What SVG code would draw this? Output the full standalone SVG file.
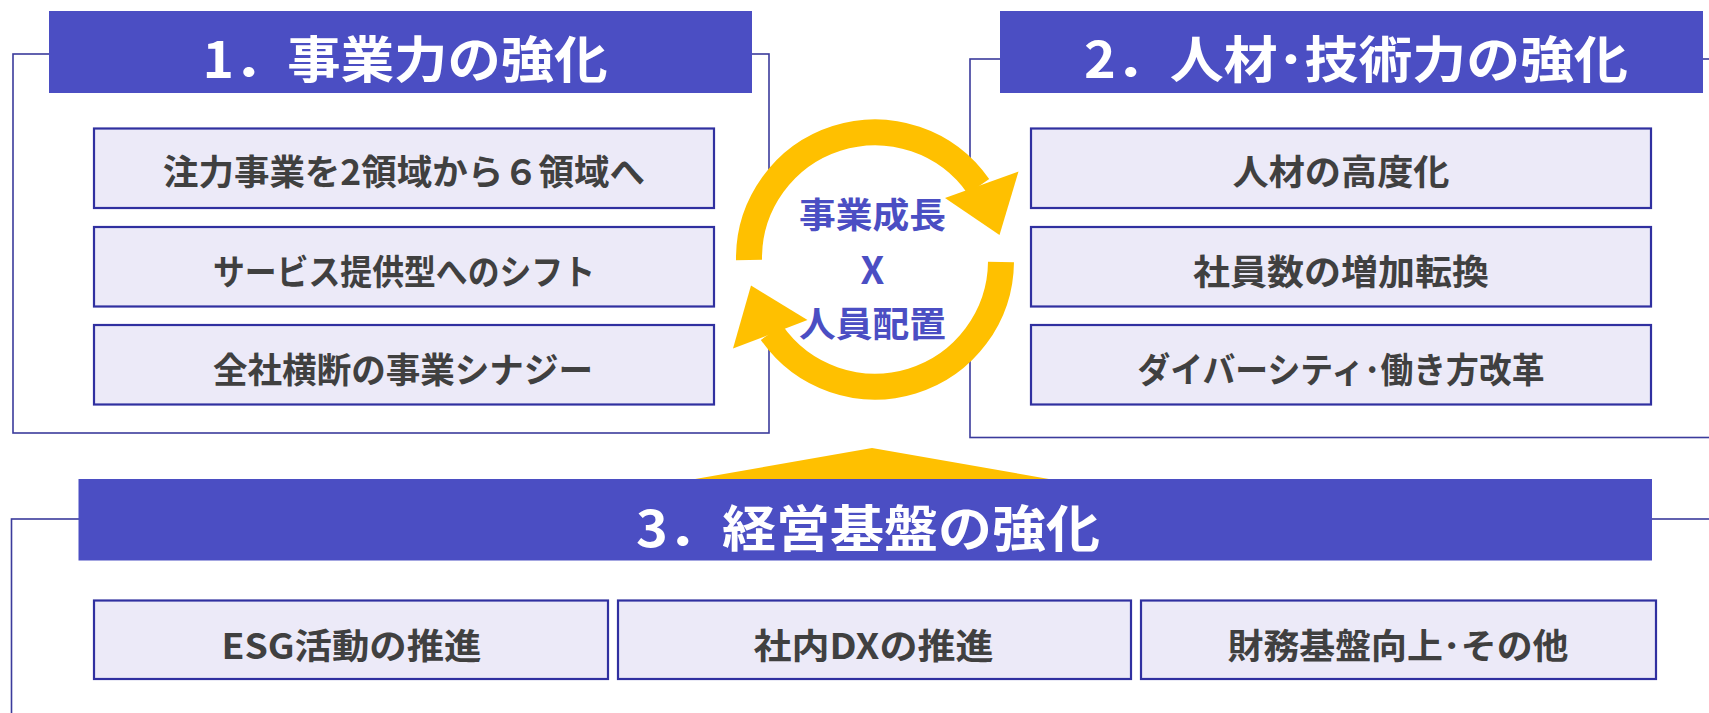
<svg xmlns="http://www.w3.org/2000/svg" width="1709" height="713" viewBox="0 0 1709 713">
<style>
.frame{fill:none;stroke:#3B3B9C;stroke-width:1.6}
.hdr{fill:#4B4EC3}
.hdrt{fill:#FFFFFF;font-family:"Noto Sans CJK JP","Noto Sans",sans-serif;font-weight:700;font-size:50px;text-anchor:middle;dominant-baseline:central}
.item{fill:#ECEAF8;stroke:#3030A0;stroke-width:2.2}
.itemt{fill:#404040;font-family:"Noto Sans CJK JP","Noto Sans",sans-serif;font-weight:700;font-size:35px;text-anchor:middle;dominant-baseline:central}
.ctr{fill:#4B4EC3;font-family:"Noto Sans CJK JP","Noto Sans",sans-serif;font-weight:700;font-size:35px;text-anchor:middle;dominant-baseline:central}
.ring{fill:none;stroke:#FFC000;stroke-width:26}
.yel{fill:#FFC000}
</style>
<rect width="1709" height="713" fill="#FFFFFF"/>
<g id="frames">
<rect class="frame" x="13" y="54" width="756" height="379"/>
<rect class="frame" x="970" y="59" width="760" height="378.5"/>
<rect class="frame" x="11.5" y="519" width="1720" height="300"/>
</g>
<g id="connectors">
<polygon class="yel" points="678,482 872,448 1066,482"/>
<circle cx="875" cy="259" r="139" fill="#FFFFFF"/>
<path class="ring" d="M749,260 A126,126 0 0 1 978.5,186.5"/>
<polygon class="yel" points="945,198 1018.5,171.5 999.5,235"/>
<path class="ring" d="M1001,262 A126,126 0 0 1 771.5,332.5"/>
<polygon class="yel" points="807.5,320 733,348.5 751,285.5"/>
</g>
<g id="node-1">
<rect class="hdr" x="49" y="11" width="703" height="82"/>
<text class="hdrt" x="405" y="55.5" textLength="405" lengthAdjust="spacingAndGlyphs">1．事業力の強化</text>
<rect class="item" x="94" y="128.5" width="620" height="79.5"/>
<text class="itemt" x="404" y="169.5" textLength="482" lengthAdjust="spacingAndGlyphs">注力事業を2領域から６領域へ</text>
<rect class="item" x="94" y="227" width="620" height="79.5"/>
<text class="itemt" x="404" y="269" textLength="382" lengthAdjust="spacingAndGlyphs">サービス提供型へのシフト</text>
<rect class="item" x="94" y="325" width="620" height="79.5"/>
<text class="itemt" x="403" y="367.5" textLength="380" lengthAdjust="spacingAndGlyphs">全社横断の事業シナジー</text>
</g>
<g id="node-2">
<rect class="hdr" x="1000" y="11" width="703" height="82"/>
<text class="hdrt" x="1356" y="55.5" textLength="544" lengthAdjust="spacingAndGlyphs">2．人材･技術力の強化</text>
<rect class="item" x="1031" y="128.5" width="620" height="79.5"/>
<text class="itemt" x="1341" y="169.5" textLength="217" lengthAdjust="spacingAndGlyphs">人材の高度化</text>
<rect class="item" x="1031" y="227" width="620" height="79.5"/>
<text class="itemt" x="1341" y="269" textLength="296" lengthAdjust="spacingAndGlyphs">社員数の増加転換</text>
<rect class="item" x="1031" y="325" width="620" height="79.5"/>
<text class="itemt" x="1341" y="367.5" textLength="407" lengthAdjust="spacingAndGlyphs">ダイバーシティ･働き方改革</text>
</g>
<g id="node-center">
<text class="ctr" x="872.5" y="212.5" textLength="147" lengthAdjust="spacingAndGlyphs">事業成長</text>
<text class="ctr" x="872.5" y="267.5" style="font-size:38px">X</text>
<text class="ctr" x="872.5" y="321.5" textLength="147" lengthAdjust="spacingAndGlyphs">人員配置</text>
</g>
<g id="node-3">
<rect class="hdr" x="78.5" y="479" width="1573.5" height="81.5"/>
<text class="hdrt" x="868" y="524.5" textLength="464" lengthAdjust="spacingAndGlyphs">3．経営基盤の強化</text>
<rect class="item" x="94" y="600.5" width="514" height="78.5"/>
<text class="itemt" x="351.5" y="643.5" textLength="260" lengthAdjust="spacingAndGlyphs">ESG活動の推進</text>
<rect class="item" x="618" y="600.5" width="513" height="78.5"/>
<text class="itemt" x="873.5" y="643.5" textLength="240" lengthAdjust="spacingAndGlyphs">社内DXの推進</text>
<rect class="item" x="1141" y="600.5" width="515" height="78.5"/>
<text class="itemt" x="1398" y="643.5" textLength="341" lengthAdjust="spacingAndGlyphs">財務基盤向上･その他</text>
</g>
</svg>
